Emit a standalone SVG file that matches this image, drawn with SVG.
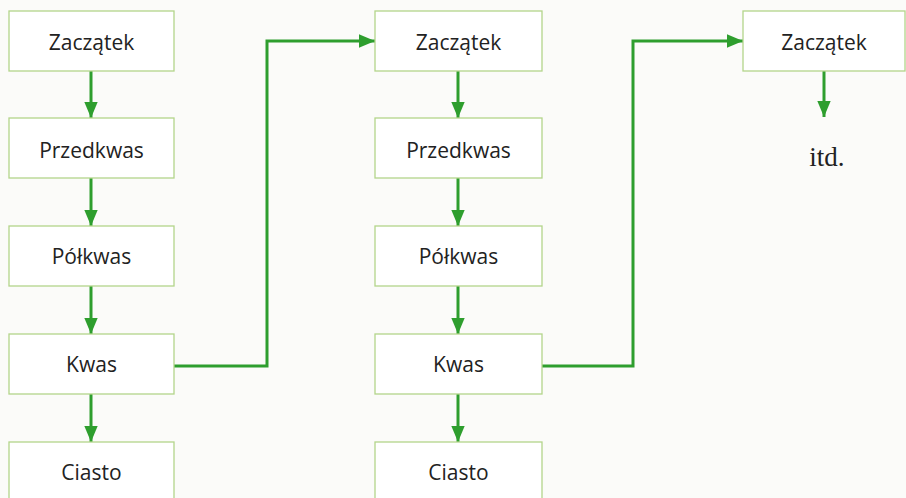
<svg xmlns="http://www.w3.org/2000/svg" width="906" height="498" viewBox="0 0 906 498">
<defs>
<style>
.box{fill:#ffffff;stroke:#b3d58a;stroke-width:1.3}
.lbl{font-family:"Open Sans","Noto Sans","Liberation Sans",sans-serif;font-size:21px;fill:#222;text-anchor:middle;dominant-baseline:central}
.con{fill:none;stroke:#2e9e2e;stroke-width:3}
</style>
<marker id="ah" viewBox="0 0 12 10" refX="12" refY="5" markerWidth="5.4" markerHeight="4.5" markerUnits="strokeWidth" orient="auto">
<path d="M0,0 L12,5 L0,10 z" fill="#2e9e2e"/>
</marker>
</defs>
<rect width="906" height="498" fill="#fbfbf9"/>
<g id="connectors">
<line class="con" x1="91" y1="71" x2="91" y2="118" marker-end="url(#ah)"/>
<line class="con" x1="91" y1="178" x2="91" y2="226" marker-end="url(#ah)"/>
<line class="con" x1="91" y1="286" x2="91" y2="334" marker-end="url(#ah)"/>
<line class="con" x1="91" y1="394" x2="91" y2="442" marker-end="url(#ah)"/>
<line class="con" x1="458" y1="71" x2="458" y2="118" marker-end="url(#ah)"/>
<line class="con" x1="458" y1="178" x2="458" y2="226" marker-end="url(#ah)"/>
<line class="con" x1="458" y1="286" x2="458" y2="334" marker-end="url(#ah)"/>
<line class="con" x1="458" y1="394" x2="458" y2="442" marker-end="url(#ah)"/>
<polyline class="con" points="174,366 267,366 267,41 375,41" marker-end="url(#ah)"/>
<polyline class="con" points="542,366 633,366 633,41 743,41" marker-end="url(#ah)"/>
<line class="con" x1="824" y1="71" x2="824" y2="117" marker-end="url(#ah)"/>
</g>
<g id="c1-zaczatek"><rect class="box" x="9" y="11" width="165" height="60"/><text class="lbl" x="91.5" y="42">Zaczątek</text></g>
<g id="c1-przedkwas"><rect class="box" x="9" y="118" width="165" height="60"/><text class="lbl" x="91.5" y="150">Przedkwas</text></g>
<g id="c1-polkwas"><rect class="box" x="9" y="226" width="165" height="60"/><text class="lbl" x="91.5" y="256">Półkwas</text></g>
<g id="c1-kwas"><rect class="box" x="9" y="334" width="165" height="60"/><text class="lbl" x="91.5" y="364">Kwas</text></g>
<g id="c1-ciasto"><rect class="box" x="9" y="442" width="165" height="60"/><text class="lbl" x="91.5" y="472">Ciasto</text></g>
<g id="c2-zaczatek"><rect class="box" x="375" y="11" width="167" height="60"/><text class="lbl" x="458.5" y="42">Zaczątek</text></g>
<g id="c2-przedkwas"><rect class="box" x="375" y="118" width="167" height="60"/><text class="lbl" x="458.5" y="150">Przedkwas</text></g>
<g id="c2-polkwas"><rect class="box" x="375" y="226" width="167" height="60"/><text class="lbl" x="458.5" y="256">Półkwas</text></g>
<g id="c2-kwas"><rect class="box" x="375" y="334" width="167" height="60"/><text class="lbl" x="458.5" y="364">Kwas</text></g>
<g id="c2-ciasto"><rect class="box" x="375" y="442" width="167" height="60"/><text class="lbl" x="458.5" y="472">Ciasto</text></g>
<g id="c3-zaczatek"><rect class="box" x="743" y="11" width="162" height="60"/><text class="lbl" x="824" y="42">Zaczątek</text></g>
<g id="c3-itd"><text x="827" y="166" font-family="Liberation Serif,serif" font-size="27" fill="#222" text-anchor="middle">itd.</text></g>
</svg>
